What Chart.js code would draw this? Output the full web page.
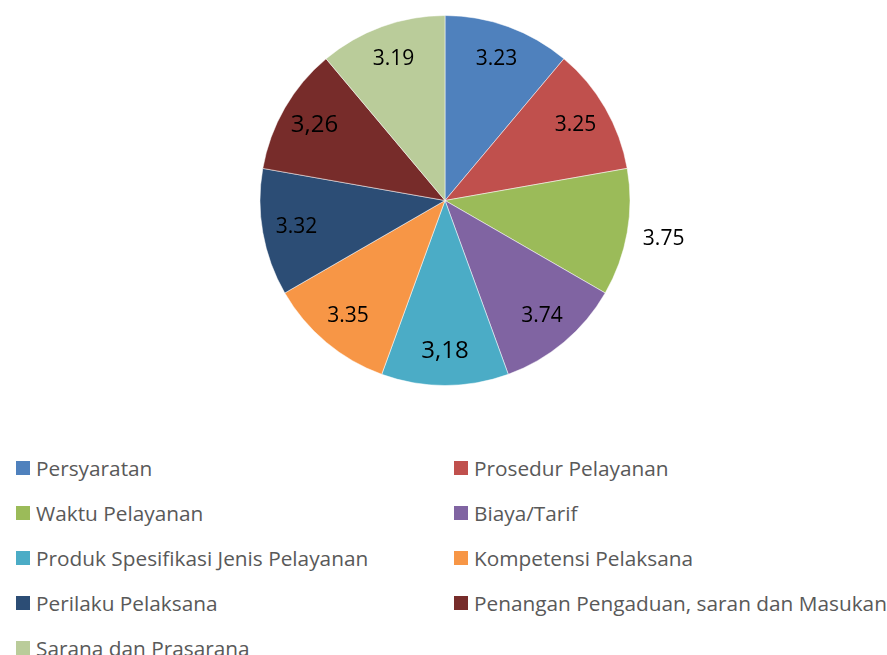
<!DOCTYPE html>
<html>
<head>
<meta charset="utf-8">
<script src="https://cdn.jsdelivr.net/npm/chart.js@4/dist/chart.umd.min.js"></script>
<style>
  html, body { margin: 0; padding: 0; background: #fff; }
  #wrap { position: relative; width: 887px; height: 655px; overflow: hidden; }
  #box { position: absolute; left: 0; top: 0; width: 887px; height: 400px; }
  #legend {
    position: absolute; left: 16px; top: 445px;
    display: grid; grid-template-columns: 438px 420px; grid-auto-rows: 45px;
    font-family: "Open Sans", sans-serif; font-size: 20.8px; color: #595959;
  }
  #legend .item { display: flex; align-items: center; white-space: nowrap; }
  #legend .sw { width: 14px; height: 14px; margin-right: 6px; flex: none; }
</style>
</head>
<body>
<div id="wrap">
  <div id="box"><canvas id="pieChart"></canvas></div>
  <div id="legend"></div>
</div>
<script>
// kategori dan nilai
const categories = [
    "Persyaratan", "Prosedur Pelayanan", "Waktu Pelayanan", "Biaya/Tarif",
    "Produk Spesifikasi Jenis Pelayanan", "Kompetensi Pelaksana", "Perilaku Pelaksana",
    "Penangan Pengaduan, saran dan Masukan", "Sarana dan Prasarana"
];
// irisan pada gambar sama besar (40° masing-masing)
const sliceShares = [1, 1, 1, 1, 1, 1, 1, 1, 1];
// label angka seperti tertulis di gambar
const valueLabels = ["3.23", "3.25", "3.75", "3.74", "3,18", "3.35", "3.32", "3,26", "3.19"];
const colors = ["#4F81BD", "#C0504D", "#9BBB59", "#8064A2", "#4BACC6", "#F79646", "#2C4D75", "#772C2A", "#BACC9A"];

const pieLabels = {
    id: "pieLabels",
    afterDatasetsDraw(chart) {
        const ctx = chart.ctx;
        const meta = chart.getDatasetMeta(0);
        ctx.save();
        ctx.textAlign = "center";
        ctx.textBaseline = "middle";
        ctx.fillStyle = "#000";
        meta.data.forEach((arc, i) => {
            const p = arc.getProps(["x", "y", "startAngle", "endAngle", "outerRadius"], true);
            const mid = (p.startAngle + p.endAngle) / 2;
            const r = p.outerRadius * (i === 2 ? 1.2 : 0.815);
            const big = valueLabels[i].indexOf(",") >= 0;
            ctx.font = (big ? "24px" : "21px") + " 'Open Sans', sans-serif";
            ctx.fillText(valueLabels[i], p.x + Math.cos(mid) * r, p.y + Math.sin(mid) * r);
        });
        ctx.restore();
    }
};

const canvas = document.getElementById("pieChart");
const chart = new Chart(canvas.getContext("2d"), {
    type: "pie",
    data: {
        labels: categories,
        datasets: [{
            data: sliceShares,
            backgroundColor: colors,
            borderColor: "rgba(255,255,255,0.5)",
            borderWidth: 1
        }]
    },
    options: {
        responsive: true,
        maintainAspectRatio: false,
        animation: false,
        layout: { padding: { top: 15, bottom: 14, left: 3, right: 0 } },
        plugins: {
            legend: { display: false },
            tooltip: { enabled: false }
        }
    },
    plugins: [pieLabels]
});

// legenda dua kolom
const legend = document.getElementById("legend");
categories.forEach((name, i) => {
    const item = document.createElement("div");
    item.className = "item";
    const sw = document.createElement("span");
    sw.className = "sw";
    sw.style.background = colors[i];
    item.appendChild(sw);
    item.appendChild(document.createTextNode(name));
    legend.appendChild(item);
});
</script>
</body>
</html>
